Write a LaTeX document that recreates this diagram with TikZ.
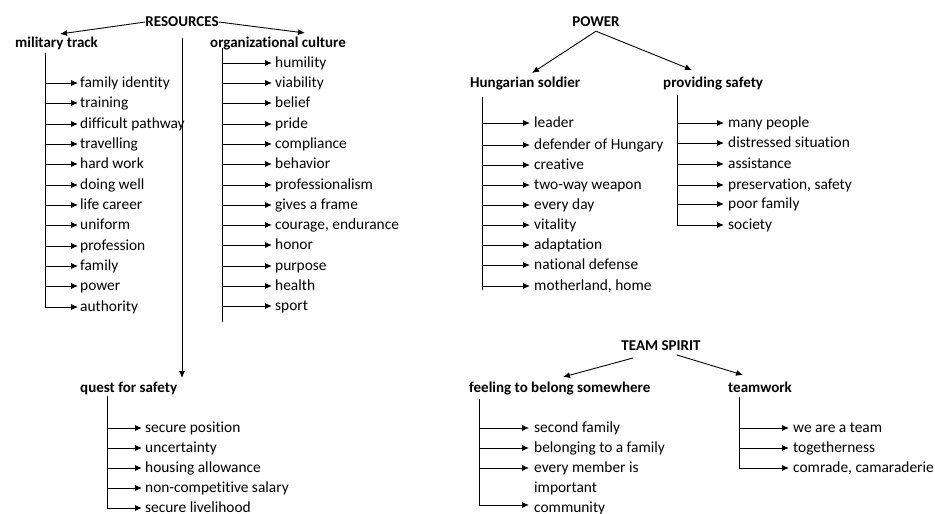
\documentclass[tikz,border=0pt]{standalone}
\usepackage{fontspec}
\setmainfont[Ligatures=NoCommon]{Carlito}
\usetikzlibrary{arrows.meta}
\begin{document}
\begin{tikzpicture}[x=1pt,y=-1pt,
  txt/.style={inner sep=0pt, anchor=west, text height=11pt, text depth=3pt, font=\fontsize{15.4}{18}\selectfont},
  hd/.style={txt, font=\fontsize{15}{18}\selectfont\bfseries},
  hdc/.style={hd, anchor=center},
  ln/.style={line width=0.9pt, black},
  arr/.style={ln, -{Latex[length=7pt,width=6pt]}}]
\useasboundingbox (0,0) rectangle (935,514);

% ---------- RESOURCES ----------
\node[hdc] (res) at (182,22) {RESOURCES};
\node[hd] (mil) at (15,43) {military track};
\node[hd] (org) at (210,43) {organizational culture};
\node[hd] (qfs) at (80,388) {quest for safety};
\coordinate (resL) at (60,34);
\coordinate (resR) at (305,33);
\coordinate (resD) at (182,378);
\draw[arr] (res.west) -- (resL);
\draw[arr] (res.east) -- (resR);
\draw[arr] (182,38) -- (resD);

% military track
\foreach \t/\y [count=\i] in {family identity/83, training/103, difficult pathway/124, travelling/144, hard work/164, doing well/185, life career/205, uniform/225, profession/246, family/266, power/286, authority/307}{
  \node[txt] (mt\i) at (80,\y) {\t};
  \draw[arr] (mt\i.west -| 45,0) -- ([xshift=-2pt]mt\i.west);
}
\draw[ln] (45,53) -- (mt12.west -| 45,0);

% organizational culture
\foreach \t/\y [count=\i] in {humility/63, viability/83, belief/103, pride/124, compliance/144, behavior/164, professionalism/185, gives a frame/205, {courage, endurance}/225, honor/245, purpose/266, health/286, sport/306}{
  \node[txt] (oc\i) at (275,\y) {\t};
  \draw[arr] (oc\i.west -| 222,0) -- ([xshift=-3pt]oc\i.west);
}
\draw[ln] (222,48) -- (222,322);

% quest for safety
\foreach \t/\y [count=\i] in {secure position/428, uncertainty/448, housing allowance/468, non-competitive salary/488, secure livelihood/508}{
  \node[txt] (qs\i) at (145,\y) {\t};
  \draw[arr] (qs\i.west -| 107,0) -- ([xshift=-3pt]qs\i.west);
}
\draw[ln] (107,396) -- (qs5.west -| 107,0);

% ---------- POWER ----------
\node[hdc] (pow) at (596,22) {POWER};
\node[hd] (hun) at (470,83) {Hungarian soldier};
\node[hd] (pro) at (663,83) {providing safety};
\coordinate (powL) at (532,73);
\coordinate (powR) at (692,70);
\draw[arr] ([yshift=-2pt]pow.south) -- (powL);
\draw[arr] ([yshift=-2pt]pow.south) -- (powR);

\foreach \t/\y [count=\i] in {leader/123, defender of Hungary/145, creative/165, two-way weapon/185, every day/205, vitality/225, adaptation/245, national defense/265, {motherland, home}/286}{
  \node[txt] (hs\i) at (534,\y) {\t};
  \draw[arr] (hs\i.west -| 482,0) -- ([xshift=-4pt]hs\i.west);
}
\draw[ln] (482,97) -- (482,290);

\foreach \t/\y [count=\i] in {many people/123, distressed situation/143, assistance/164, {preservation, safety}/185, poor family/204, society/225}{
  \node[txt] (ps\i) at (728,\y) {\t};
  \draw[arr] (ps\i.west -| 677,0) -- ([xshift=-4pt]ps\i.west);
}
\draw[ln] (677,95) -- (ps6.west -| 677,0);

% ---------- TEAM SPIRIT ----------
\node[hdc] (ts) at (661,346) {TEAM SPIRIT};
\node[hd] (fb) at (469,388) {feeling to belong somewhere};
\node[hd] (tw) at (728,388) {teamwork};
\coordinate (tsL) at (563,377);
\coordinate (tsR) at (743,375);
\draw[arr] (633,358) -- (tsL);
\draw[arr] (677,355) -- (tsR);

\node[txt] (fb1) at (534,428) {second family};
\node[txt] (fb2) at (534,448) {belonging to a family};
\node[txt] (fb3) at (534,468) {every member is};
\node[txt] (fb4) at (534,488) {important};
\node[txt] (fb5) at (534,508) {community};
\foreach \i in {1,2,3}{
  \draw[arr] (fb\i.west -| 479,0) -- ([xshift=-5pt]fb\i.west);
}
\draw[arr] (479,505) -- ([xshift=-5pt]fb5.west |- 0,505);
\draw[ln] (479,399) -- (479,505);

\foreach \t/\y [count=\i] in {we are a team/428, togetherness/448, {comrade, camaraderie}/468}{
  \node[txt] (tm\i) at (793,\y) {\t};
  \draw[arr] (tm\i.west -| 739,0) -- ([xshift=-4pt]tm\i.west);
}
\draw[ln] (739,397) -- (tm3.west -| 739,0);
\end{tikzpicture}
\end{document}
